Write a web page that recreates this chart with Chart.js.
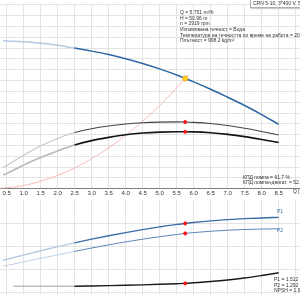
<!DOCTYPE html>
<html><head><meta charset="utf-8">
<script src="https://cdn.jsdelivr.net/npm/chart.js@4.4.1/dist/chart.umd.min.js"></script>
<style>
html,body{margin:0;padding:0;width:300px;height:300px;overflow:hidden;background:#fff;font-family:"Liberation Sans",Arial,sans-serif;}
canvas{position:absolute;}
#cTop{left:-50px;top:0;}
#cBot{left:-50px;top:195px;}
.t{position:absolute;white-space:nowrap;font-size:5px;line-height:5.67px;color:#333;}
#box{position:absolute;left:250px;top:-1px;border:1px solid #b0b0b0;background:#fff;padding:0 2px;font-size:5px;line-height:7px;color:#333;white-space:nowrap;box-shadow:1px 1px 1px #ccc;}
</style></head><body>
<canvas id="cBot" width="400" height="105"></canvas>
<canvas id="cTop" width="400" height="198"></canvas>
<div id="box">CRN 5-10, 3*400 V, 50Hz</div>
<div class="t" style="left:180px;top:10px">Q = 5.751 m³/h<br>H = 50.96 m<br>n = 2919 rpm<br>Изпомпвана течност = Вода<br>Температура на течността по време на работа = 20 °C<br>Плътност = 998.2 kg/m³</div>
<div class="t" style="left:243px;top:174.5px">КПД помпа = 61.7 %<br>КПД помпа+двигат. = 52.7 %</div>
<div class="t" style="left:274px;top:277px">P1 = 1.512 kW<br>P2 = 1.292 kW<br>NPSH = 1.92 m</div>
<div class="t" style="left:293px;top:189px">Q [m³/h]</div>
<div class="t" style="left:277px;top:209px;color:#3a6ea5">P1</div>
<div class="t" style="left:277px;top:228px;color:#3a6ea5">P2</div>
<script>
// ---- data ----
const flowQ    = [0.4, 0.5, 1.0, 1.5, 2.0, 2.5, 3.0, 3.5, 4.0, 4.5, 5.0, 5.5, 5.751, 6.0, 6.5, 7.0, 7.5, 8.0, 8.5];
const headH    = [68.4, 68.3, 67.9, 67.2, 66.3, 65.0, 63.6, 62.0, 60.1, 57.9, 55.4, 52.6, 50.96, 49.4, 46.0, 42.3, 38.5, 34.3, 29.8];
const etaPump  = [19.9, 21.5, 31.0, 39.5, 46.5, 52.0, 55.5, 58.0, 59.8, 61.0, 61.6, 61.8, 61.7, 61.4, 60.3, 58.5, 56.0, 53.0, 49.7];
const etaTotal = [12.7, 14.0, 22.0, 29.0, 35.0, 40.5, 44.5, 47.5, 50.0, 51.6, 52.4, 52.7, 52.7, 52.6, 51.8, 50.3, 48.2, 45.6, 42.7];
const powerP1  = [0.70, 0.72, 0.815, 0.91, 1.0, 1.085, 1.165, 1.24, 1.31, 1.375, 1.435, 1.49, 1.512, 1.533, 1.568, 1.595, 1.617, 1.633, 1.645];
const powerP2  = [0.57, 0.585, 0.665, 0.745, 0.82, 0.895, 0.97, 1.04, 1.105, 1.165, 1.22, 1.268, 1.292, 1.31, 1.34, 1.362, 1.378, 1.388, 1.393];
const npshQ    = [0.7, 1.0, 1.5, 2.0, 2.5, 3.0, 3.5, 4.0, 4.5, 5.0, 5.5, 5.751, 6.0, 6.5, 7.0, 7.5, 8.0, 8.5];
const npshM    = [1.3, 1.3, 1.3, 1.3, 1.3, 1.35, 1.42, 1.5, 1.6, 1.72, 1.85, 1.92, 2.05, 2.32, 2.66, 3.1, 3.65, 4.25];
const systemQ  = [0, 0.4, 1.0, 1.5, 2.0, 2.5, 3.0, 3.5, 4.0, 4.5, 5.0, 5.5, 5.751, 5.85];
const systemH  = [0, 0.3, 1.5, 3.5, 6.2, 9.6, 13.9, 18.9, 24.7, 31.2, 38.5, 46.6, 50.96, 52.7];
const xTicks   = [0.5, 1.0, 1.5, 2.0, 2.5, 3.0, 3.5, 4.0, 4.5, 5.0, 5.5, 6.0, 6.5, 7.0, 7.5, 8.0, 8.5];
const pGrid    = [0, 0.5, 1.0, 1.5];
const opQ = 5.751, opH = 50.96, opEtaPump = 61.7, opEtaTotal = 52.7, opP1 = 1.512, opP2 = 1.292, opNPSH = 1.92;
const rangeStart = 2.5; // curves are drawn faded left of this flow

// ---- helpers ----
const pts = (xs, ys) => xs.map((x, i) => ({x, y: ys[i]}));
const seg = (light, dark) => ({borderColor: c => (c.p1.parsed.x <= rangeStart ? light : dark)});
const gridCol = '#e3e3e3';
const xMin = -1.023, xMax = 10.456;
const xGridTicks = s => { const t = []; for (let v = -1; v <= 10.5; v += 0.5) t.push({value: v}); s.ticks = t; };
const line = (data, yAxisID, light, dark, w) => ({type:'line', data, yAxisID, borderColor: dark, borderWidth: w, pointRadius: 0,
  cubicInterpolationMode:'monotone', segment: seg(light, dark), fill:false});
const mark = (x, y, yAxisID, bg, bd, r) => ({type:'line', data:[{x, y}], yAxisID, showLine:false, pointRadius:r,
  pointBackgroundColor:bg, pointBorderColor:bd, pointBorderWidth:0.8});

Chart.defaults.font.family = '"Liberation Sans", Arial, sans-serif';
Chart.defaults.animation = false;

new Chart(document.getElementById('cTop'), {
  type: 'line',
  data: { datasets: [
    mark(opQ, opH, 'yH', '#ffd21a', '#f0a020', 2.6),
    mark(opQ, opEtaPump, 'yE', '#ff1010', '#ff1010', 1.6),
    mark(opQ, opEtaTotal, 'yE', '#ff1010', '#ff1010', 1.6),
    line(pts(flowQ, headH), 'yH', '#b4c8e0', '#2e66a3', 1.5),
    line(pts(flowQ, etaPump), 'yE', '#c4c4c4', '#444444', 1.1),
    line(pts(flowQ, etaTotal), 'yE', '#b8b8b8', '#151515', 1.6),
    {type:'line', data: pts(systemQ, systemH), yAxisID:'yH', borderColor:'#f6a8a8', borderWidth:0.8, pointRadius:0, cubicInterpolationMode:'monotone', fill:false}
  ]},
  options: {
    responsive:false, animation:false, events:[],
    layout:{padding:0},
    plugins:{legend:{display:false}, tooltip:{enabled:false}},
    scales:{
      x:{type:'linear', min:xMin, max:xMax, afterBuildTicks:xGridTicks,
         grid:{color:gridCol, drawTicks:false},
         border:{display:true, color:'#808080', width:1},
         ticks:{padding:1, color:'#333', font:{size:6}, maxRotation:0, autoSkip:false,
           callback: v => (xTicks.includes(v) ? v.toFixed(1) : '')}},
      yH:{type:'linear', position:'left', min:0, max:85,
         grid:{color:gridCol, drawTicks:false}, border:{display:false},
         ticks:{display:false, stepSize:5}},
      yE:{type:'linear', display:false, min:0, max:170}
    }
  }
});

new Chart(document.getElementById('cBot'), {
  type: 'line',
  data: { datasets: [
    mark(opQ, opP1, 'yP', '#ff1010', '#ff1010', 1.6),
    mark(opQ, opP2, 'yP', '#ff1010', '#ff1010', 1.6),
    mark(opQ, opNPSH, 'yN', '#ff1010', '#ff1010', 1.6),
    line(pts(flowQ, powerP1), 'yP', '#b4c8e0', '#3a6ea5', 1.4),
    line(pts(flowQ, powerP2), 'yP', '#c0d0e4', '#5a86b8', 1.0),
    line(pts(npshQ, npshM), 'yN', '#bdbdbd', '#1a1a1a', 1.4)
  ]},
  options: {
    responsive:false, animation:false, events:[],
    layout:{padding:0},
    plugins:{legend:{display:false}, tooltip:{enabled:false}},
    scales:{
      x:{type:'linear', min:xMin, max:xMax, afterBuildTicks:xGridTicks,
         grid:{color:gridCol, drawTicks:false}, border:{display:false},
         ticks:{display:false}},
      yP:{type:'linear', position:'left', min:-0.068, max:2.032,
         afterBuildTicks: s => { s.ticks = pGrid.map(v => ({value:v})); },
         grid:{color:gridCol, drawTicks:false}, border:{display:false},
         ticks:{display:false}},
      yN:{type:'linear', display:false, min:-0.68, max:20.32}
    }
  }
});
</script>
</body></html>
